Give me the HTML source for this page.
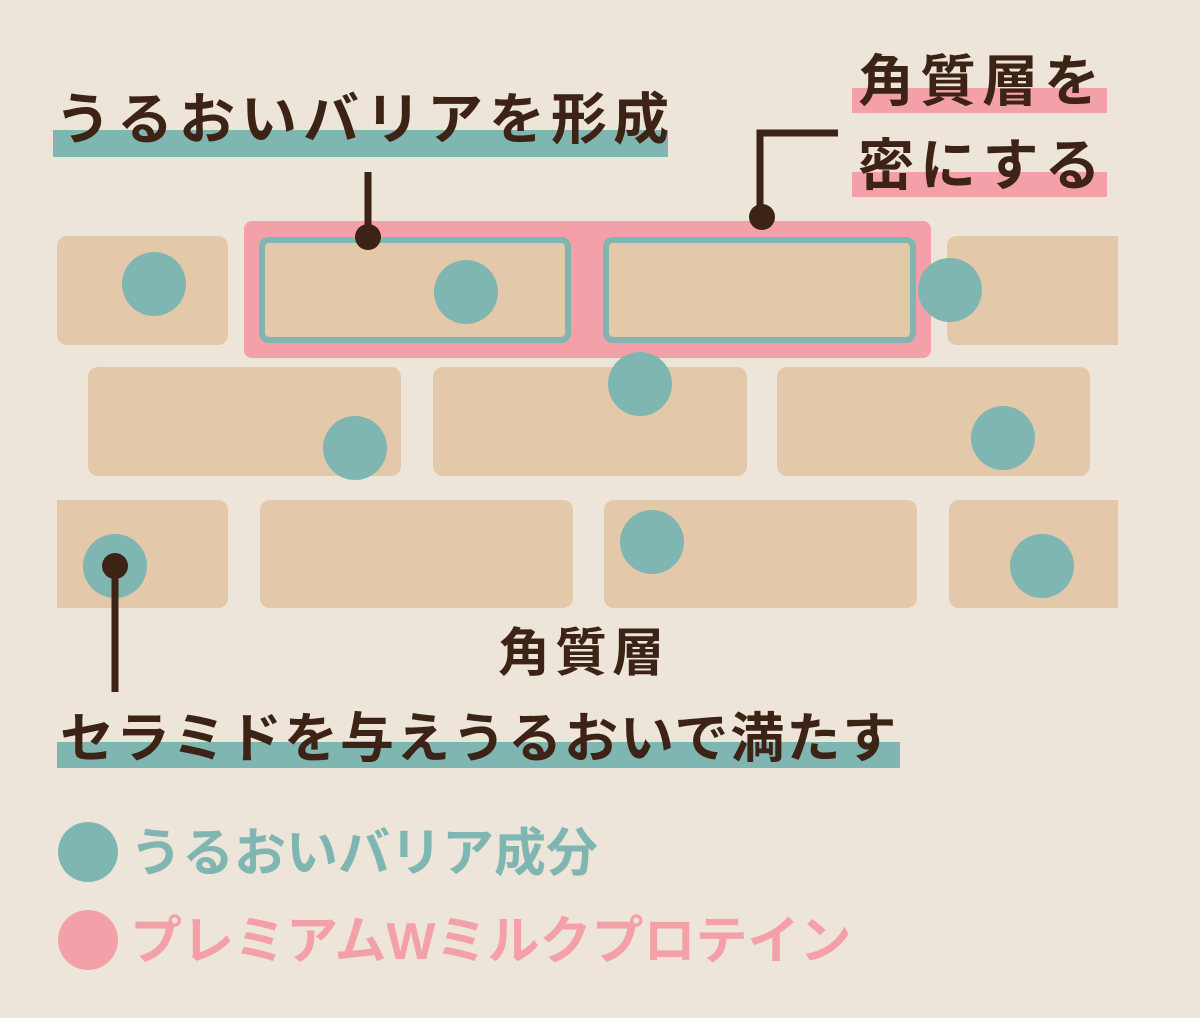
<!DOCTYPE html>
<html><head><meta charset="utf-8"><style>
body{margin:0;width:1200px;height:1018px;background:#ede5da;position:relative;overflow:hidden;font-family:"Liberation Sans","Noto Sans CJK JP",sans-serif;font-weight:700;color:#3d2316}
.a{position:absolute}
.b{position:absolute;background:#e4c8aa;border-radius:10px}
.d{position:absolute;width:64px;height:64px;border-radius:50%;background:#7fb6b1}
.t{position:absolute;white-space:nowrap;line-height:1}
</style></head><body>
<div class="a" style="left:244px;top:221px;width:687px;height:137px;background:#f4a0a8;border-radius:8px"></div>
<div class="b" style="left:57px;top:236px;width:171px;height:109px"></div>
<div class="b" style="left:259px;top:237px;width:312px;height:106px;border:6px solid #7fb6b1;box-sizing:border-box"></div>
<div class="b" style="left:603px;top:237px;width:313px;height:106px;border:6px solid #7fb6b1;box-sizing:border-box"></div>
<div class="b" style="left:947px;top:236px;width:171px;height:109px;border-radius:10px 0 0 10px"></div>
<div class="b" style="left:88px;top:367px;width:313px;height:109px"></div>
<div class="b" style="left:433px;top:367px;width:314px;height:109px"></div>
<div class="b" style="left:777px;top:367px;width:313px;height:109px"></div>
<div class="b" style="left:57px;top:500px;width:171px;height:108px;border-radius:0 10px 10px 0"></div>
<div class="b" style="left:260px;top:500px;width:313px;height:108px"></div>
<div class="b" style="left:604px;top:500px;width:313px;height:108px"></div>
<div class="b" style="left:949px;top:500px;width:169px;height:108px;border-radius:10px 0 0 10px"></div>

<div class="d" style="left:122px;top:252px"></div>
<div class="d" style="left:434px;top:260px"></div>
<div class="d" style="left:918px;top:258px"></div>
<div class="d" style="left:608px;top:352px"></div>
<div class="d" style="left:323px;top:416px"></div>
<div class="d" style="left:971px;top:406px"></div>
<div class="d" style="left:83px;top:534px"></div>
<div class="d" style="left:620px;top:510px"></div>
<div class="d" style="left:1010px;top:534px"></div>

<svg class="a" style="left:0;top:0" width="1200" height="1018">
<g stroke="#3d2316" stroke-width="7" fill="none">
<line x1="368" y1="172" x2="368" y2="237"/>
<polyline points="838,133 760,133 760,218"/>
<line x1="115" y1="566" x2="115" y2="692"/>
</g>
<g fill="#3d2316"><circle cx="368" cy="237" r="13"/><circle cx="762" cy="217" r="13"/><circle cx="115" cy="566" r="13"/></g>
</svg>

<div class="a" style="left:53px;top:130px;width:615px;height:27px;background:#7fb6b1"></div>
<div class="t" style="left:55px;top:92px;font-size:56px;letter-spacing:6px">うるおいバリアを形成</div>
<div class="a" style="left:852px;top:88px;width:255px;height:25px;background:#f4a0a8"></div>
<div class="a" style="left:852px;top:172px;width:255px;height:25px;background:#f4a0a8"></div>
<div class="t" style="left:858px;top:54px;font-size:56px;letter-spacing:6px">角質層を</div>
<div class="t" style="left:858px;top:138px;font-size:56px;letter-spacing:6px">密にする</div>
<div class="t" style="left:498px;top:628px;font-size:52px;letter-spacing:5px">角質層</div>
<div class="a" style="left:57px;top:742px;width:843px;height:26px;background:#7fb6b1"></div>
<div class="t" style="left:60px;top:712px;font-size:54px;letter-spacing:2px">セラミドを与えうるおいで満たす</div>

<div class="a" style="left:58px;top:822px;width:60px;height:60px;border-radius:50%;background:#7fb6b1"></div>
<div class="a" style="left:58px;top:910px;width:60px;height:60px;border-radius:50%;background:#f4a0a8"></div>
<div class="t" style="left:130px;top:828px;font-size:52px;letter-spacing:0px;color:#7fb6b1">うるおいバリア成分</div>
<div class="t" style="left:130px;top:916px;font-size:52px;letter-spacing:0px;color:#f4a0a8">プレミアムWミルクプロテイン</div>
</body></html>
